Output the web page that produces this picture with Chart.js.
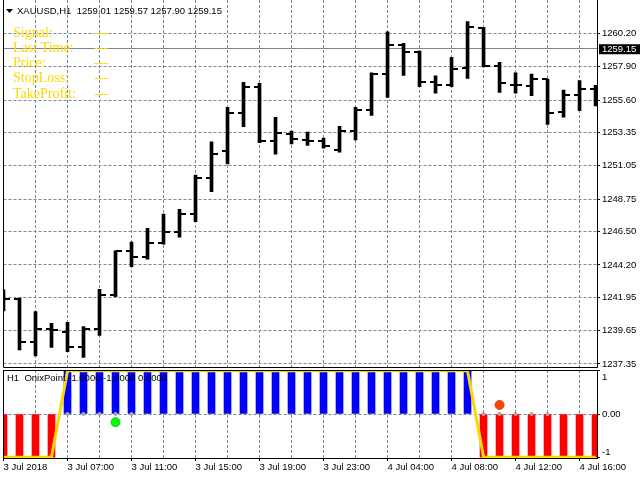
<!DOCTYPE html>
<html>
<head>
<meta charset="utf-8">
<script src="https://cdn.jsdelivr.net/npm/chart.js@4.4.1/dist/chart.umd.min.js"></script>
<style>
  html, body { margin: 0; padding: 0; background: #fff; }
  #wrap { position: relative; width: 640px; height: 480px; overflow: hidden; }
  canvas { position: absolute; left: 0; }
  #priceChart { top: 0; }
  #oscChart { top: 368px; }
</style>
</head>
<body>
<div id="wrap">
  <canvas id="priceChart" width="640" height="368"></canvas>
  <canvas id="oscChart" width="640" height="112"></canvas>
</div>
<script>
// Header texts
var symbolTitle = 'XAUUSD,H1  1259.01 1259.57 1257.90 1259.15';
var oscTitle = 'H1  OnixPoint -1.0000 -1.0000 0.0000';
var bidPrice = 1259.15;

// OHLC of the 38 hourly bars
var openPrices  = [1242.26, 1241.86, 1238.89, 1239.79, 1239.58, 1238.55, 1239.75, 1242.09, 1245.14, 1244.75,
                   1245.74, 1246.50, 1247.74, 1250.23, 1252.05, 1254.68, 1256.48, 1252.77, 1253.23, 1252.86,
                   1252.77, 1252.17, 1253.48, 1254.93, 1257.37, 1259.38, 1258.94, 1256.87, 1256.64, 1257.84,
                   1260.60, 1257.95, 1256.66, 1256.57, 1257.03, 1254.79, 1255.95, 1256.34];
var highPrices  = [1242.47, 1241.91, 1240.97, 1240.16, 1240.23, 1239.93, 1242.51, 1245.18, 1245.78, 1246.73,
                   1247.72, 1248.05, 1250.42, 1252.72, 1255.10, 1256.83, 1256.76, 1254.41, 1253.46, 1253.39,
                   1252.97, 1253.78, 1255.10, 1257.49, 1260.32, 1259.52, 1258.98, 1257.28, 1258.55, 1261.02,
                   1260.63, 1258.21, 1257.49, 1257.40, 1257.05, 1256.29, 1256.94, 1256.62];
var lowPrices   = [1241.01, 1238.32, 1237.90, 1238.50, 1238.20, 1237.81, 1239.33, 1242.00, 1244.08, 1244.59,
                   1245.63, 1246.11, 1247.19, 1249.26, 1251.18, 1253.76, 1252.65, 1251.85, 1252.56, 1252.47,
                   1252.28, 1251.99, 1252.84, 1254.53, 1255.79, 1257.31, 1256.52, 1256.07, 1256.52, 1257.10,
                   1257.90, 1256.13, 1256.07, 1255.90, 1253.91, 1254.41, 1254.86, 1255.19];
var closePrices = [1241.86, 1238.89, 1239.79, 1239.70, 1238.55, 1239.75, 1242.09, 1245.14, 1244.75, 1245.74,
                   1246.50, 1247.74, 1250.23, 1251.89, 1254.68, 1256.48, 1252.77, 1253.30, 1252.93, 1252.77,
                   1252.42, 1253.48, 1254.93, 1257.37, 1259.38, 1258.94, 1256.87, 1256.64, 1257.77, 1260.67,
                   1257.95, 1256.78, 1256.66, 1257.03, 1254.70, 1255.95, 1256.34, 1255.60];

// Price scale ticks as printed on the right axis
var priceTicks = [1260.20, 1257.90, 1255.60, 1253.35, 1251.05, 1248.75, 1246.50, 1244.20, 1241.95, 1239.65, 1237.35];
var priceMin = 1237.14, priceMax = 1262.52;

// Time labels, one every 4 bars
var labelStep = 4;
var timeLabels = ['3 Jul 2018', '3 Jul 07:00', '3 Jul 11:00', '3 Jul 15:00', '3 Jul 19:00',
                  '3 Jul 23:00', '4 Jul 04:00', '4 Jul 08:00', '4 Jul 12:00', '4 Jul 16:00'];

// OnixPoint indicator: histogram (+1 blue / -1 red) and its yellow line
var signalHist = [-1, -1, -1, -1, 1, 1, 1, 1, 1, 1, 1, 1, 1, 1, 1, 1, 1, 1, 1, 1,
                  1, 1, 1, 1, 1, 1, 1, 1, 1, 1, -1, -1, -1, -1, -1, -1, -1, -1];
var signalLine = [-1, -1, -1, -1, 1, 1, 1, 1, 1, 1, 1, 1, 1, 1, 1, 1, 1, 1, 1, 1,
                  1, 1, 1, 1, 1, 1, 1, 1, 1, 1, -1, -1, -1, -1, -1, -1, -1, -1];
var flatDotBars = [4, 5, 6, 7, 8, 30, 31, 32, 33, 34];
var buyDot = { bar: 7, value: -0.19 };
var sellDot = { bar: 31, value: 0.21 };
var oscTicks = [1, 0, -1];
var oscTickLabels = ['1', '0.00', '-1'];

// Info panel
var infoLabels = ['Signal:', 'Last Time:', 'Price:', 'StopLoss:', 'TakeProfit:'];
var infoValues = ['---', '---', '---', '---', '---'];

var gridColor = '#778899';
var infoColor = '#FFD700';
var xMax = 37.09;
var gridBars = [];
for (var g = 0; g <= 36; g += 2) gridBars.push(g);

Chart.defaults.font.family = '"Liberation Sans", Arial, sans-serif';
Chart.defaults.font.size = 9.5;
Chart.defaults.color = '#000';

// small horizontal tick images for open (left) and close (right)
function makeTick(side) {
    var c = document.createElement('canvas');
    c.width = 12;
    c.height = 2;
    var t = c.getContext('2d');
    t.fillStyle = '#000';
    t.fillRect(side === 'left' ? 0 : 6, 0, 6, 2);
    return c;
}

function fixAxis(w, h) {
    return function(s) {
        if (w !== null) s.width = w;
        if (h !== null) s.height = h;
        s.paddingTop = 0; s.paddingBottom = 0; s.paddingLeft = 0; s.paddingRight = 0;
    };
}

var mainDecor = {
    id: 'mainDecor',
    beforeDatasetsDraw: function(chart) {
        var a = chart.chartArea, ctx = chart.ctx;
        var y = Math.floor(chart.scales.y.getPixelForValue(bidPrice)) + 0.5;
        ctx.save();
        ctx.strokeStyle = gridColor;
        ctx.lineWidth = 1;
        ctx.beginPath();
        ctx.moveTo(a.left, y);
        ctx.lineTo(a.right, y);
        ctx.stroke();
        ctx.restore();
    },
    afterDraw: function(chart) {
        var a = chart.chartArea, ctx = chart.ctx, ys = chart.scales.y;
        ctx.save();
        // window frame
        var l = Math.floor(a.left) + 0.5, r = Math.floor(a.right) + 0.5, b = Math.floor(a.bottom) + 0.5;
        ctx.strokeStyle = '#000';
        ctx.lineWidth = 1;
        ctx.beginPath();
        ctx.moveTo(l, a.top);
        ctx.lineTo(l, b);
        ctx.lineTo(r, b);
        ctx.lineTo(r, a.top);
        ctx.stroke();

        // symbol header
        ctx.fillStyle = '#000';
        ctx.beginPath();
        ctx.moveTo(6, 9);
        ctx.lineTo(13, 9);
        ctx.lineTo(9.5, 13);
        ctx.closePath();
        ctx.fill();
        ctx.font = '9.5px "Liberation Sans"';
        ctx.textAlign = 'left';
        ctx.textBaseline = 'middle';
        ctx.fillText(symbolTitle, 17, 11);

        // info panel
        ctx.font = '14px "Liberation Serif"';
        ctx.fillStyle = infoColor;
        ctx.textBaseline = 'alphabetic';
        infoLabels.forEach(function(t, i) {
            ctx.fillText(t, 13, 36.5 + i * 15.25);
            ctx.fillText(infoValues[i], 94, 36.5 + i * 15.25);
        });

        // bid price box on the axis
        var by = ys.getPixelForValue(bidPrice);
        ctx.fillStyle = '#000';
        ctx.fillRect(a.right + 2, by - 4.5, chart.width - a.right - 2, 10);
        ctx.fillStyle = '#fff';
        ctx.font = '9.5px "Liberation Sans"';
        ctx.textBaseline = 'middle';
        ctx.fillText(bidPrice.toFixed(2), a.right + 5, by + 0.5);
        ctx.restore();
    }
};

var oscDecor = {
    id: 'oscDecor',
    afterDraw: function(chart) {
        var a = chart.chartArea, ctx = chart.ctx, ys = chart.scales.y;
        ctx.save();
        var l = Math.floor(a.left) + 0.5, r = Math.floor(a.right) + 0.5;
        var t = Math.floor(a.top) + 0.5, b = Math.floor(a.bottom) + 0.5;
        ctx.strokeStyle = '#000';
        ctx.lineWidth = 1;
        ctx.strokeRect(l, t, r - l, b - t);

        ctx.font = '9.5px "Liberation Sans"';
        ctx.fillStyle = '#000';
        ctx.textAlign = 'left';
        ctx.textBaseline = 'middle';
        oscTicks.forEach(function(v, i) {
            var y = Math.min(Math.max(ys.getPixelForValue(v), a.top + 7.5), a.bottom - 5.5);
            ctx.fillText(oscTickLabels[i], a.right + 5, y);
        });
        ctx.fillText(oscTitle, 7, a.top + 8.5);
        ctx.restore();
    }
};

var bars = openPrices.map(function(_, i) { return i; });

new Chart(document.getElementById('priceChart'), {
    type: 'scatter',
    data: {
        datasets: [{
            type: 'scatter',
            data: bars.map(function(i) { return { x: i, y: openPrices[i] }; }),
            pointStyle: makeTick('left'),
            pointRadius: 3,
            clip: 0
        }, {
            type: 'scatter',
            data: bars.map(function(i) { return { x: i, y: closePrices[i] }; }),
            pointStyle: makeTick('right'),
            pointRadius: 3,
            clip: 0
        }, {
            type: 'bar',
            data: bars.map(function(i) { return { x: i, y: [lowPrices[i], highPrices[i]] }; }),
            backgroundColor: '#000',
            borderWidth: 0,
            barThickness: 3,
            clip: 0
        }]
    },
    options: {
        responsive: false,
        animation: false,
        events: [],
        layout: { padding: { left: 3.5, top: 0, right: 0, bottom: 1 }, autoPadding: false },
        plugins: { legend: { display: false }, tooltip: { enabled: false } },
        scales: {
            x: {
                type: 'linear', min: 0, max: xMax, offset: false,
                afterBuildTicks: function(s) { s.ticks = gridBars.map(function(v) { return { value: v }; }); },
                afterFit: fixAxis(null, 0),
                ticks: { display: false },
                grid: {
                    offset: false, drawTicks: false,
                    color: function(c) { return c.tick && c.tick.value === 0 ? 'rgba(0,0,0,0)' : gridColor; }
                },
                border: { display: false, dash: [3, 2] }
            },
            y: {
                type: 'linear', position: 'right', min: priceMin, max: priceMax,
                afterBuildTicks: function(s) { s.ticks = priceTicks.map(function(v) { return { value: v }; }); },
                afterFit: fixAxis(43, null),
                ticks: { padding: 2, color: '#000', callback: function(v) { return v.toFixed(2); } },
                grid: { color: gridColor, tickColor: '#000', tickLength: 3, tickBorderDash: [] },
                border: { display: false, dash: [3, 2] }
            }
        }
    },
    plugins: [mainDecor]
});

new Chart(document.getElementById('oscChart'), {
    type: 'scatter',
    data: {
        datasets: [{
            type: 'scatter',
            data: [{ x: buyDot.bar, y: buyDot.value }],
            backgroundColor: '#00FF00', borderColor: '#18C818', borderWidth: 1, pointRadius: 4.5
        }, {
            type: 'scatter',
            data: [{ x: sellDot.bar, y: sellDot.value }],
            backgroundColor: '#FF4500', borderColor: '#E03A00', borderWidth: 1, pointRadius: 4.5
        }, {
            type: 'scatter',
            data: flatDotBars.map(function(i) { return { x: i, y: 0 }; }),
            backgroundColor: '#A8A8A8', borderWidth: 0, pointRadius: 2
        }, {
            type: 'line',
            data: signalLine.map(function(v, i) { return { x: i, y: v }; }),
            borderColor: infoColor, borderWidth: 3, pointRadius: 0, tension: 0, fill: false
        }, {
            type: 'bar',
            data: signalHist.map(function(v, i) { return { x: i, y: v }; }),
            backgroundColor: function(c) { return c.raw && c.raw.y > 0 ? '#0000FF' : '#FF0000'; },
            borderWidth: 0,
            barThickness: 7,
            clip: 0
        }]
    },
    options: {
        responsive: false,
        animation: false,
        events: [],
        layout: { padding: { left: 3.5, top: 2, right: 0, bottom: 0 }, autoPadding: false },
        plugins: { legend: { display: false }, tooltip: { enabled: false } },
        scales: {
            x: {
                type: 'linear', min: 0, max: xMax, offset: false,
                afterBuildTicks: function(s) { s.ticks = gridBars.map(function(v) { return { value: v }; }); },
                afterFit: fixAxis(null, 22),
                ticks: {
                    autoSkip: false, maxRotation: 0, minRotation: 0, align: 'start', padding: 1, color: '#000',
                    callback: function(v) { return v % labelStep === 0 ? timeLabels[v / labelStep] : ''; }
                },
                grid: {
                    offset: false, tickLength: 3, tickBorderDash: [],
                    color: function(c) { return c.tick && c.tick.value === 0 ? 'rgba(0,0,0,0)' : gridColor; },
                    tickColor: function(c) { return c.tick && c.tick.value % labelStep === 0 ? '#000' : 'rgba(0,0,0,0)'; }
                },
                border: { display: false, dash: [3, 2] }
            },
            y: {
                type: 'linear', position: 'right', min: -1.02, max: 1.02,
                afterBuildTicks: function(s) { s.ticks = oscTicks.map(function(v) { return { value: v }; }); },
                afterFit: fixAxis(43, null),
                ticks: { display: false },
                grid: {
                    tickLength: 3, tickColor: '#000', tickBorderDash: [],
                    color: function(c) { return c.tick && c.tick.value === 0 ? gridColor : 'rgba(0,0,0,0)'; }
                },
                border: { display: false, dash: [3, 2] }
            }
        }
    },
    plugins: [oscDecor]
});
</script>
</body>
</html>
